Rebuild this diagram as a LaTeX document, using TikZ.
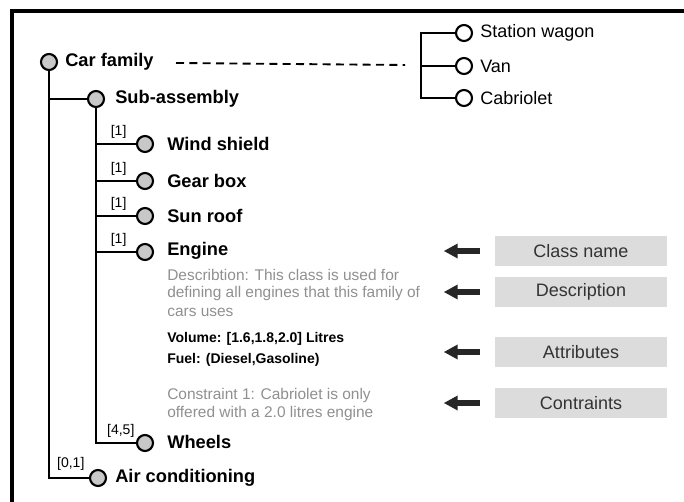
\documentclass[tikz,border=0pt]{standalone}
\usepackage{fontspec}
\setmainfont{Liberation Sans}
\usetikzlibrary{arrows.meta}
\definecolor{circfill}{HTML}{C8C8C8}
\definecolor{boxfill}{HTML}{DCDCDC}
\definecolor{desc}{HTML}{909090}
\definecolor{boxtext}{HTML}{333333}
\begin{document}
\begin{tikzpicture}[x=0.75pt,y=-0.75pt,
  ball/.style={circle,draw=black,line width=1.6pt,fill=circfill,inner sep=0pt,minimum size=12pt},
  wball/.style={ball,fill=white},
  lbl/.style={anchor=west,inner sep=0pt,font=\fontsize{13.7}{16}\selectfont\bfseries},
  rlbl/.style={anchor=west,inner sep=0pt,font=\fontsize{13.5}{16}\selectfont},
  card/.style={anchor=south east,inner sep=1pt,font=\fontsize{10.5}{12}\selectfont},
  note/.style={anchor=west,inner sep=0pt,text=desc,font=\fontsize{11.6}{14}\selectfont},
  attr/.style={anchor=west,inner sep=0pt,font=\fontsize{10.5}{13}\selectfont\bfseries},
  tag/.style={fill=boxfill,minimum width=129pt,minimum height=22pt,inner sep=0pt,text=boxtext,font=\fontsize{13.5}{16}\selectfont},
  link/.style={line width=1.4pt},
  bigarrow/.style={line width=3.8pt,-{Triangle[length=10.5pt,width=10.5pt]},black!85}
]
\useasboundingbox (0,0) rectangle (684,502);
% frame
\draw[line width=2.4pt] (12,503) -- (12,11) -- (685,11);

% tree nodes
\node[ball] (car) at (49,62) {};
\node[lbl] (cartxt) at (65,62) {Car family};
\node[ball] (sub) at (96,99) {};
\node[lbl] at (115,99) {Sub-assembly};
\node[ball] (wind) at (145,144) {};
\node[lbl] at (167,144) {Wind shield};
\node[ball] (gear) at (145,181) {};
\node[lbl] at (167,181) {Gear box};
\node[ball] (sun) at (145,216) {};
\node[lbl] at (167,216) {Sun roof};
\node[ball] (eng) at (145,252) {};
\node[lbl] (engtxt) at (167,251) {Engine};
\node[ball] (wheel) at (145,443) {};
\node[lbl] at (167,442) {Wheels};
\node[ball] (air) at (98,478) {};
\node[lbl] at (115,478) {Air conditioning};

% connectors
\draw[link] (car.south) |- (air.west);
\draw[link] (car.south) |- (sub.west);
\draw[link] (sub.south) |- (wind.west);
\draw[link] (sub.south) |- (gear.west);
\draw[link] (sub.south) |- (sun.west);
\draw[link] (sub.south) |- (eng.west);
\draw[link] (sub.south) |- (wheel.west);

% cardinalities
\node[card] at (128,140) {[1]};
\node[card] at (128,177) {[1]};
\node[card] at (128,212) {[1]};
\node[card] at (128,248) {[1]};
\node[card] at (136,439) {[4,5]};
\node[card] at (86,472) {[0,1]};

% engine details
\node[note] (d1) at (167,275) {Describtion: This class is used for};
\node[note] (d2) at (167,293) {defining all engines that this family of};
\node[note] (d3) at (167,312) {cars uses};
\node[attr] (a1) at (167,339) {Volume: [1.6,1.8,2.0] Litres};
\node[attr] (a2) at (167,360) {Fuel: (Diesel,Gasoline)};
\node[note] (c1) at (167,395) {Constraint 1: Cabriolet is only};
\node[note] (c2) at (167,413) {offered with a 2.0 litres engine};

% variants
\node[wball] (sw) at (464,33) {};
\node[rlbl] at (480,33) {Station wagon};
\node[wball] (van) at (464,66) {};
\node[rlbl] at (480,66) {Van};
\node[wball] (cab) at (464,98) {};
\node[rlbl] at (480,98) {Cabriolet};
\coordinate (jt) at (421,33);
\coordinate (jm) at (421,66);
\draw[link] (sw.west) -- (jt) |- (cab.west);
\draw[link] (jm) -- (van.west);
\coordinate (dstart) at (176,63);
\coordinate (dend) at (405,65);
\draw[line width=1.4pt,dash pattern=on 6pt off 4pt] (dstart) -- (dend);

% legend boxes
\node[tag] (t1) at (581,251) {Class name};
\node[tag] (t2) at (581,292) {Description};
\node[tag] (t3) at (581,352) {Attributes};
\node[tag] (t4) at (581,403) {Contraints};
\draw[bigarrow] (t1.west) ++(-15,0) -- ++(-36,0) coordinate (p1);
\draw[bigarrow] (t2.west) ++(-15,0) -- ++(-36,0) coordinate (p2);
\draw[bigarrow] (t3.west) ++(-15,0) -- ++(-36,0) coordinate (p3);
\draw[bigarrow] (t4.west) ++(-15,0) -- ++(-36,0) coordinate (p4);
\end{tikzpicture}
\end{document}
